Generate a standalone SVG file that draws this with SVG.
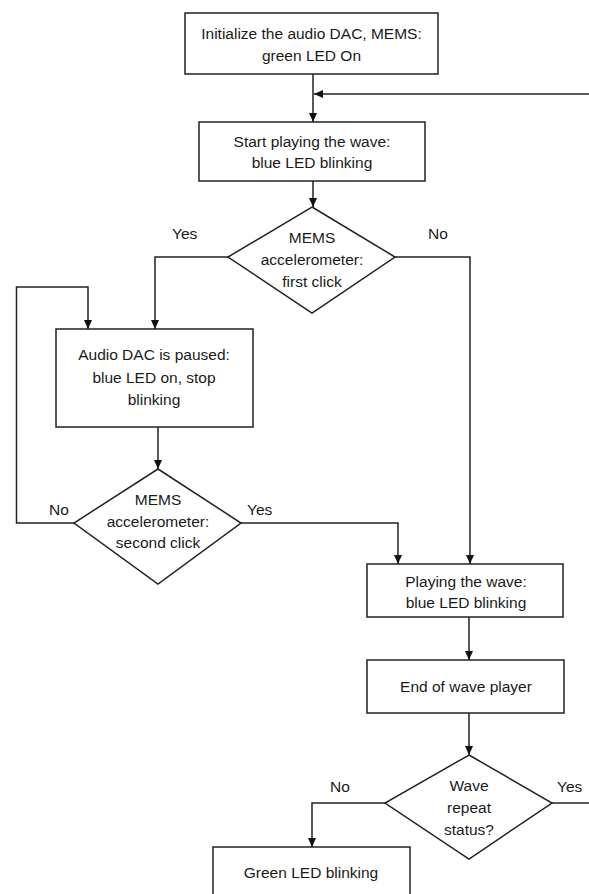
<svg xmlns="http://www.w3.org/2000/svg" width="589" height="894" viewBox="0 0 589 894">
<defs>
<marker id="arr" markerWidth="10" markerHeight="10" refX="9" refY="5" orient="auto" markerUnits="userSpaceOnUse">
<path d="M0,1 L9,5 L0,9 Z" fill="#111"/>
</marker>
<style>
.b{fill:#fff;stroke:#222;stroke-width:1.5}
.c{fill:none;stroke:#222;stroke-width:1.5}
.t{font-family:"Liberation Sans",Arial,sans-serif;font-size:15.5px;fill:#1a1a1a;text-anchor:middle}
.l{font-family:"Liberation Sans",Arial,sans-serif;font-size:15.5px;fill:#1a1a1a}
</style>
</defs>
<rect width="589" height="894" fill="#fff"/>
<g id="connectors">
<path class="c" d="M313,74 V122" marker-end="url(#arr)"/>
<path class="c" d="M589,94 H314" marker-end="url(#arr)"/>
<path class="c" d="M313,181 V207" marker-end="url(#arr)"/>
<path class="c" d="M228,257 H155 V329" marker-end="url(#arr)"/>
<path class="c" d="M395,257 H470 V564" marker-end="url(#arr)"/>
<path class="c" d="M158,427 V469" marker-end="url(#arr)"/>
<path class="c" d="M74,523 H16.5 V287 H88 V329" marker-end="url(#arr)"/>
<path class="c" d="M241,523 H398 V564" marker-end="url(#arr)"/>
<path class="c" d="M469,617 V660" marker-end="url(#arr)"/>
<path class="c" d="M469,713 V755" marker-end="url(#arr)"/>
<path class="c" d="M385,803 H312 V847" marker-end="url(#arr)"/>
<path class="c" d="M552,803 H589"/>
</g>
<g id="init">
<rect class="b" x="185" y="13" width="253" height="61"/>
<text class="t" x="311.5" y="39">Initialize the audio DAC, MEMS:</text>
<text class="t" x="311.5" y="61">green LED On</text>
</g>
<g id="start">
<rect class="b" x="199" y="122" width="226" height="59"/>
<text class="t" x="312" y="147">Start playing the wave:</text>
<text class="t" x="312" y="168">blue LED blinking</text>
</g>
<g id="click1">
<polygon class="b" points="312,207 395,257 312,313 228,257"/>
<text class="t" x="312" y="243">MEMS</text>
<text class="t" x="312" y="265">accelerometer:</text>
<text class="t" x="312" y="287">first click</text>
<text class="l" x="172" y="239">Yes</text>
<text class="l" x="428" y="239">No</text>
</g>
<g id="paused">
<rect class="b" x="56" y="329" width="197" height="98"/>
<text class="t" x="154" y="360">Audio DAC is paused:</text>
<text class="t" x="154" y="383">blue LED on, stop</text>
<text class="t" x="154" y="405">blinking</text>
</g>
<g id="click2">
<polygon class="b" points="158,469 241,523 158,584 74,523"/>
<text class="t" x="158" y="505">MEMS</text>
<text class="t" x="158" y="527">accelerometer:</text>
<text class="t" x="158" y="548">second click</text>
<text class="l" x="49" y="515">No</text>
<text class="l" x="247" y="515">Yes</text>
</g>
<g id="playing">
<rect class="b" x="367" y="564" width="196" height="53"/>
<text class="t" x="466" y="587">Playing the wave:</text>
<text class="t" x="466" y="608">blue LED blinking</text>
</g>
<g id="end">
<rect class="b" x="367" y="660" width="197" height="53"/>
<text class="t" x="466" y="692">End of wave player</text>
</g>
<g id="repeat">
<polygon class="b" points="469,755 552,803 469,859 385,803"/>
<text class="t" x="469" y="791">Wave</text>
<text class="t" x="469" y="813">repeat</text>
<text class="t" x="469" y="835">status?</text>
<text class="l" x="330" y="792">No</text>
<text class="l" x="557" y="792">Yes</text>
</g>
<g id="green">
<rect class="b" x="213" y="847" width="197" height="60"/>
<text class="t" x="311" y="878">Green LED blinking</text>
</g>
</svg>
